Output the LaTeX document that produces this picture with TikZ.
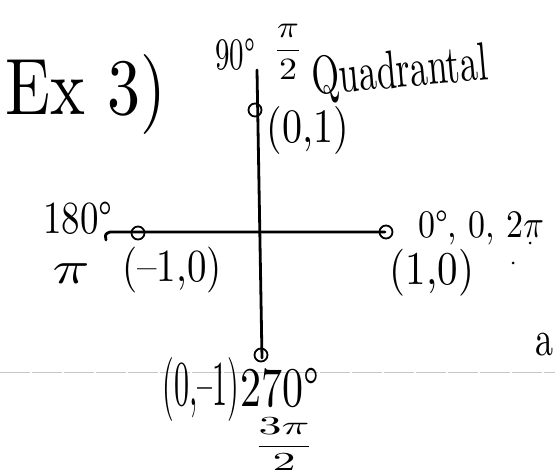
\documentclass[tikz,border=0pt]{standalone}
\begin{document}
\begin{tikzpicture}[x=1pt,y=-1pt,
  ink/.style={line width=2.8pt,black,line cap=round,line join=round},
  ptc/.style={circle,draw,line width=1.8pt,inner sep=0pt,minimum size=13pt},
  hw/.style={inner sep=0pt},
  stray/.style={fill=black,circle,inner sep=0pt,minimum size=3pt},
  ruled/.style={gray!45,line width=0.6pt,dash pattern=on 30pt off 2pt}]
\useasboundingbox (0,0) rectangle (555,476);
% notebook rule line
\coordinate (rl) at (0,372);
\coordinate (rr) at (555,372);
\draw[ruled] (rl) -- (rr);
% axes
\coordinate (ytop) at (257,70);
\coordinate (ybot) at (262,358);
\coordinate (xh) at (106,240);
\coordinate (xl) at (110,232);
\coordinate (xr) at (385,232);
\draw[ink] (ytop) -- (ybot);
\draw[ink] (xh) .. controls (105,234) .. (xl) -- (xr);
% points
\node[ptc] (p90) at (255,110) {};
\node[ptc] (p270) at (261,355) {};
\node[ptc] (p180) at (138,233) {};
\node[ptc] (p0) at (386,232) {};
% labels
\node[hw] (ex) at (86,95) {\scalebox{6.6}[8]{Ex 3)}};
\node[hw] (d90) at (235,55) {\scalebox{2.9}[4.5]{90°}};
\node[hw] (h90) at (288,52) {\scalebox{3.6}[3.1]{$\displaystyle\frac{\pi}{2}$}};
\node[hw,anchor=base west,rotate=5] (quad) at (313,95) {\scalebox{3.55}[5.4]{Quadrantal}};
\node[hw] (c90) at (308,131) {\scalebox{4}[4.8]{(0,1)}};
\node[hw] (d180) at (78,218) {\scalebox{3.7}[4.6]{180°}};
\node[hw] (r180) at (71,274) {\scalebox{6.1}[4.6]{$\pi$}};
\node[hw] (c180) at (172,270) {\scalebox{3.9}[4.6]{(–1,0)}};
\node[hw,anchor=base west] (d0) at (418,238) {\scalebox{3.4}[3.9]{0°, 0, 2$\pi$}};
\node[hw] (c0) at (432,273) {\scalebox{4.1}[4.7]{(1,0)}};
\node[stray] (dot1) at (513,263) {};
\node[stray] (dot2) at (530,243) {};
\node[hw] (c270) at (201,389) {\scalebox{3}[6.4]{(0,–1)}};
\node[hw] (d270) at (280,388) {\scalebox{4.2}[5.6]{270°}};
\node[hw,anchor=north] (r270) at (284,418) {\scalebox{4.6}[2.6]{$\displaystyle\frac{3\pi}{2}$}};
\node[hw,anchor=east] (a) at (554,345) {\scalebox{3.6}[5]{a}};
\end{tikzpicture}
\end{document}
